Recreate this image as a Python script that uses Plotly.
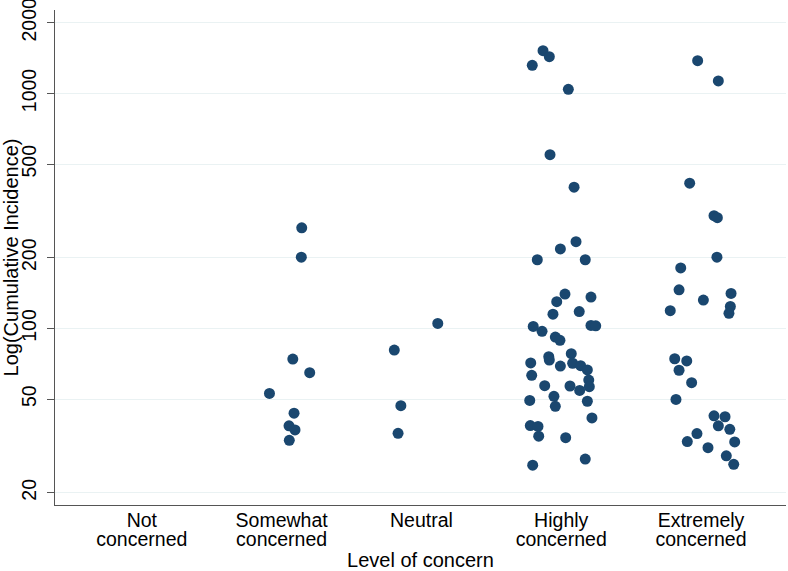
import math
import plotly.graph_objects as go

# ---- data -------------------------------------------------------------
categories = [1, 2, 3, 4, 5]
label_line1 = ["Not", "Somewhat", "Neutral", "Highly", "Extremely"]
label_line2 = ["concerned", "concerned", "", "concerned", "concerned"]

y_ticks = [20, 50, 100, 200, 500, 1000, 2000]
y_ticktext = ["20", "50", "100", "200", "500", "1000", "2000"]

# jittered category positions and cumulative incidence, per level of concern
somewhat_x = [2.144, 2.141, 2.080, 2.201, 1.913, 2.089, 2.053, 2.096, 2.055]
somewhat_y = [268, 201, 74.1, 64.8, 52.9, 43.6, 38.5, 37.0, 33.4]

neutral_x = [3.117, 2.806, 2.853, 2.833]
neutral_y = [105, 80.9, 46.9, 35.8]

highly_x = [3.870, 3.915, 3.793, 4.051, 3.920, 4.092, 4.106, 3.994, 3.829, 4.172,
            4.027, 4.213, 3.968, 4.129, 3.941, 3.800, 3.863, 4.213, 4.247, 3.958,
            3.991, 4.072, 3.911, 3.915, 3.782, 3.994, 4.082, 4.139, 4.187, 3.789,
            4.197, 3.882, 4.063, 4.132, 4.201, 3.775, 3.948, 3.958, 4.187, 4.220,
            3.779, 3.834, 3.839, 4.032, 4.172, 3.796]
highly_y = [1520, 1433, 1317, 1041, 549, 399, 234, 218, 196, 196,
            140, 136, 130, 118, 115, 102, 97.2, 103, 102.6, 91.9,
            89.0, 78.1, 75.8, 73.4, 71.3, 69.2, 71.1, 69.4, 66.6, 63.2,
            60.3, 57.1, 56.9, 54.5, 56.5, 49.4, 51.4, 46.6, 49.0, 41.6,
            38.6, 38.3, 34.8, 34.3, 27.8, 26.2]

extremely_x = [4.976, 5.124, 4.919, 5.093, 5.117, 5.114, 4.855, 4.843, 5.215, 5.017,
               4.780, 5.210, 5.200, 4.812, 4.898, 4.843, 4.933, 4.821, 5.093, 5.172,
               5.124, 5.206, 4.971, 4.902, 5.241, 5.050, 5.181, 5.234]
extremely_y = [1378, 1130, 415, 302, 296, 201, 181, 146, 141, 132,
               119, 124, 116, 74.3, 72.7, 66.4, 58.8, 49.9, 42.5, 42.1,
               38.5, 37.2, 35.7, 33.0, 32.9, 31.1, 28.7, 26.4]

# ---- styling ----------------------------------------------------------
NAVY = "#1a476f"
GRID = "#eaf2f3"
AXIS = "#555555"
FONT = "Liberation Sans, Arial, Helvetica, sans-serif"

all_x = somewhat_x + neutral_x + highly_x + extremely_x
all_y = somewhat_y + neutral_y + highly_y + extremely_y

fig = go.Figure()
fig.add_trace(go.Scatter(
    x=all_x, y=all_y, mode="markers",
    marker=dict(size=11, color=NAVY, line=dict(width=0)),
    showlegend=False, hoverinfo="skip",
))
# carrier for the overlaid axis holding the first line of category labels
fig.add_trace(go.Scatter(x=[], y=[], xaxis="x2", yaxis="y",
                         showlegend=False, hoverinfo="skip"))

x_range = [0.379, 5.608]
fig.update_layout(
    template="none",
    width=788, height=571, autosize=False,
    margin=dict(l=55, r=2, t=10, b=66),
    paper_bgcolor="white", plot_bgcolor="white",
    font=dict(family=FONT, size=19.5, color="black"),
    xaxis=dict(
        automargin=False,
        range=x_range, tickmode="array", tickvals=categories, ticktext=label_line2,
        ticks="", showgrid=False, zeroline=False,
        showline=True, linecolor=AXIS, linewidth=1,
        tickfont=dict(size=19.5), ticklabelstandoff=17,
        title=dict(text="Level of concern", font=dict(size=20), standoff=9),
    ),
    xaxis2=dict(
        automargin=False,
        range=x_range, overlaying="x", anchor="y", side="bottom",
        tickmode="array", tickvals=categories, ticktext=label_line1,
        ticks="", showgrid=False, zeroline=False, showline=False,
        tickfont=dict(size=19.5), ticklabelstandoff=1,
    ),
    yaxis=dict(
        automargin=False,
        type="log", range=[math.log10(17.73), math.log10(2265)],
        tickmode="array", tickvals=y_ticks, ticktext=y_ticktext,
        tickangle=-90, ticks="outside", ticklen=7, tickcolor=AXIS,
        showline=True, linecolor=AXIS, linewidth=1,
        showgrid=True, gridcolor=GRID, gridwidth=1, zeroline=False,
        tickfont=dict(size=19.5), ticklabelstandoff=3,
        ticklabeloverflow="allow",
        title=dict(text="Log(Cumulative Incidence)", font=dict(size=20), standoff=2),
    ),
)

fig.write_html(
    "out.html",
    config={"displayModeBar": False, "staticPlot": True},
    post_script="document.body.style.margin='0';document.body.style.padding='0';",
)
